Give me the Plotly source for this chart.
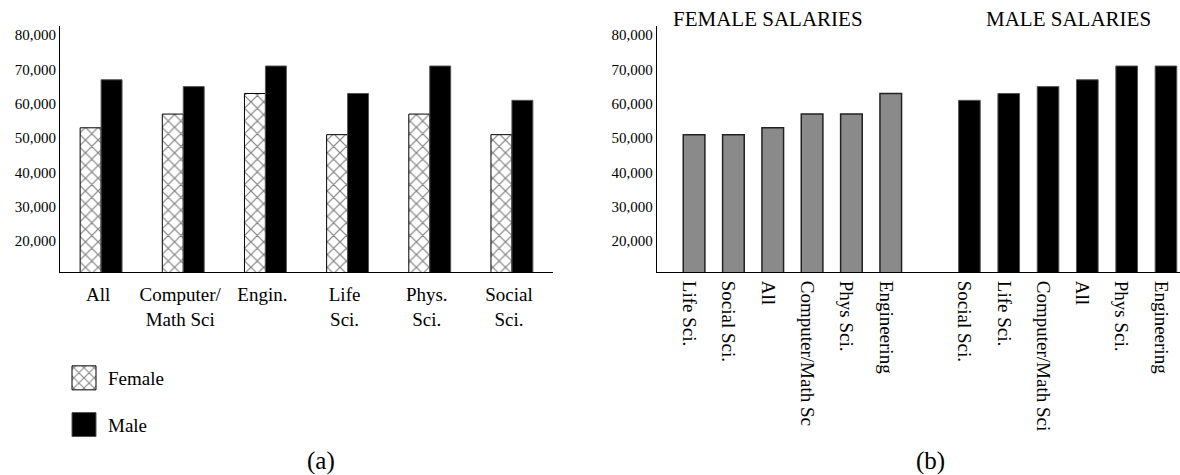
import plotly.graph_objects as go

# ---- data ----
categories_a = ["All", "Computer/<br>Math Sci", "Engin.", "Life<br>Sci.", "Phys.<br>Sci.", "Social<br>Sci."]
female_a = [53000, 57000, 63000, 51000, 57000, 51000]
male_a = [67000, 65000, 71000, 63000, 71000, 61000]

female_cats_b = ["Life Sci.", "Social Sci.", "All", "Computer/Math Sc", "Phys Sci.", "Engineering"]
female_vals_b = [51000, 51000, 53000, 57000, 57000, 63000]
male_cats_b = ["Social Sci.", "Life Sci.", "Computer/Math Sci", "All", "Phys Sci.", "Engineering"]
male_vals_b = [61000, 63000, 65000, 67000, 71000, 71000]

y_ticks = [20000, 30000, 40000, 50000, 60000, 70000, 80000]

W, H = 1180, 475
FONT = "Liberation Serif, Times New Roman, serif"

def px_x(p):
    return p / W

def px_y(p):
    return (H - p) / H

y_dom = [px_y(272), px_y(25.5)]
y_range = [11000, 82800]

fig = go.Figure()

fig.add_trace(go.Bar(
    x=categories_a, y=female_a, name="Female", legendgroup="f",
    marker=dict(color="white",
                pattern=dict(shape="x", fgcolor="black", bgcolor="white", size=9, solidity=0.25),
                line=dict(color="black", width=1)),
    xaxis="x", yaxis="y"))
fig.add_trace(go.Bar(
    x=categories_a, y=male_a, name="Male", legendgroup="m",
    marker=dict(color="black", line=dict(color="#555555", width=1)),
    xaxis="x", yaxis="y"))

fig.add_trace(go.Bar(
    x=female_cats_b, y=female_vals_b, showlegend=False, width=0.55,
    marker=dict(color="#8a8a8a", line=dict(color="#222222", width=1.5)),
    xaxis="x2", yaxis="y2"))
fig.add_trace(go.Bar(
    x=male_cats_b, y=male_vals_b, showlegend=False, width=0.55,
    marker=dict(color="black", line=dict(color="#555555", width=1)),
    xaxis="x3", yaxis="y2"))

axis_common = dict(showgrid=False, zeroline=False, showline=True, linecolor="black", linewidth=1,
                   ticks="", fixedrange=True, automargin=False)

fig.update_layout(
    width=W, height=H,
    margin=dict(l=0, r=0, t=0, b=0, autoexpand=False),
    paper_bgcolor="white", plot_bgcolor="white",
    font=dict(family=FONT, color="black", size=19),
    barmode="group", bargap=0.49, bargroupgap=0,
    xaxis=dict(domain=[px_x(60), px_x(553)], anchor="y", tickfont=dict(size=19),
               tickangle=0, ticklabelshift=-3, ticklabelstandoff=5, **axis_common),
    yaxis=dict(domain=y_dom, anchor="x", range=y_range, tickvals=y_ticks, tickformat=",",
               tickfont=dict(size=15), **axis_common),
    xaxis2=dict(domain=[px_x(656.7), px_x(930.1)], anchor="y2", range=[-0.95, 6.0],
                tickangle=90, tickfont=dict(size=19), ticklabelshift=-5, ticklabelstandoff=4,
                **axis_common),
    xaxis3=dict(domain=[px_x(930.1), 1.0], anchor="y2", range=[-1.0, 5.357],
                tickangle=90, tickfont=dict(size=19), ticklabelshift=-5, ticklabelstandoff=4,
                **axis_common),
    yaxis2=dict(domain=y_dom, anchor="x2", range=y_range, tickvals=y_ticks, tickformat=",",
                tickfont=dict(size=15), **axis_common),
    legend=dict(x=px_x(60), y=px_y(359), xanchor="left", yanchor="top",
                font=dict(size=19), bgcolor="rgba(0,0,0,0)", tracegroupgap=19,
                traceorder="grouped", itemwidth=38),
    showlegend=True,
    annotations=[
        dict(text="FEMALE SALARIES", x=px_x(768), y=px_y(19), xref="paper", yref="paper",
             xanchor="center", yanchor="middle", showarrow=False, font=dict(size=21)),
        dict(text="MALE SALARIES", x=px_x(1068), y=px_y(19), xref="paper", yref="paper",
             xanchor="center", yanchor="middle", showarrow=False, font=dict(size=21)),
        dict(text="(a)", x=px_x(321), y=px_y(461), xref="paper", yref="paper",
             xanchor="center", yanchor="middle", showarrow=False, font=dict(size=25)),
        dict(text="(b)", x=px_x(930), y=px_y(461), xref="paper", yref="paper",
             xanchor="center", yanchor="middle", showarrow=False, font=dict(size=25)),
    ],
)

# remove the page's default body margin and enlarge the legend swatches to 24px squares
post = """
document.body.style.margin = '0';
var gd = document.getElementsByClassName('plotly-graph-div')[0];
function bigSwatches(){
  gd.querySelectorAll('.legendpoints path').forEach(function(p){
    p.setAttribute('d', 'M12,12H-12V-12H12Z');
  });
}
bigSwatches();
gd.on('plotly_afterplot', bigSwatches);
"""

fig.write_html("out.html", post_script=post, config={"displayModeBar": False})
